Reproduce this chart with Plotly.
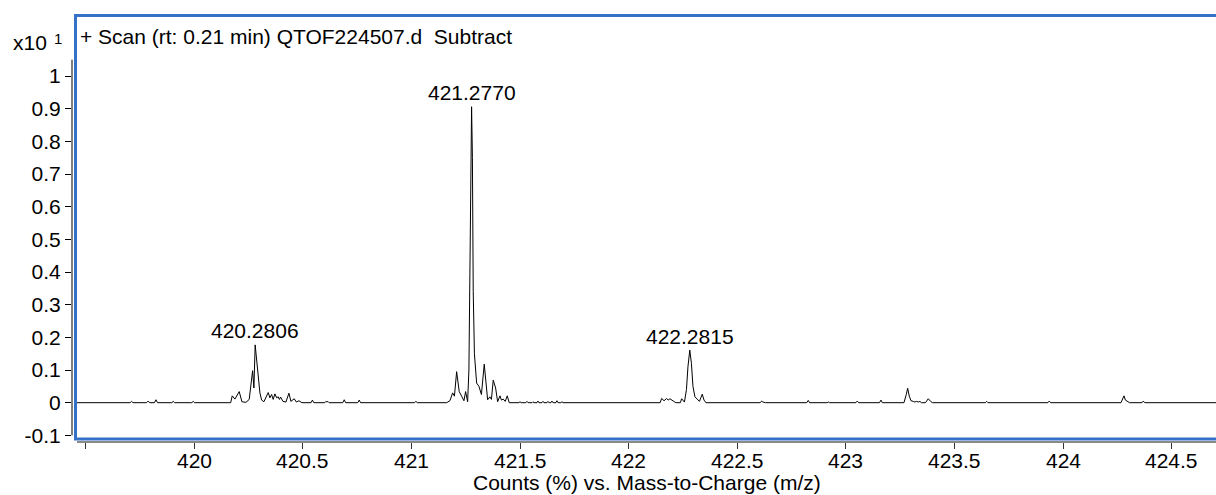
import plotly.graph_objects as go

# ---- spectrum (m/z vs. relative counts, in units of x10^1) ----
# baseline noise below the first isotope cluster
mz_low = [419.4553, 419.7050, 419.7118, 419.7180, 419.7810, 419.7882, 419.7950,
          419.8170, 419.8237, 419.8310, 419.8970, 419.9033, 419.9100, 419.9890,
          419.9954, 420.0020, 420.1560]
int_low = [0, 0, 0.004, 0, 0, 0.005, 0,
           0, 0.009, 0, 0, 0.004, 0, 0,
           0.004, 0, 0]

# cluster around 420.28
mz_420 = [420.1680, 420.1750, 420.1874, 420.2072, 420.2196, 420.2380, 420.2532,
          420.2689, 420.2749, 420.2806, 420.2880, 420.2947, 420.3025, 420.3103,
          420.3209, 420.3407, 420.3485, 420.3564, 420.3637, 420.3715, 420.3794,
          420.3867, 420.3923, 420.3978, 420.4084, 420.4222, 420.4360, 420.4452,
          420.4604, 420.4705, 420.4820, 420.4959, 420.5380, 420.5442, 420.5510,
          420.6010, 420.6063, 420.6110, 420.6155, 420.6210, 420.6840, 420.6906,
          420.6970, 420.7530, 420.7597, 420.7660, 421.0140, 421.0207, 421.0270]
int_420 = [0, 0.021, 0.011, 0.034, 0.003, 0.001, 0.010,
           0.098, 0.045, 0.177, 0.130, 0.080, 0.030, 0.008,
           0.003, 0.031, 0.015, 0.025, 0.010, 0.027, 0.015,
           0.018, 0.010, 0.017, 0.004, 0.002, 0.029, 0.004,
           0.012, 0.002, 0.006, 0, 0, 0.008, 0,
           0, 0.004, 0.002, 0.004, 0, 0, 0.009,
           0, 0, 0.008, 0, 0, 0.004, 0]

# base peak cluster around 421.28
mz_421 = [421.1621, 421.1772, 421.1897, 421.1980, 421.2081, 421.2201, 421.2311,
          421.2417, 421.2495, 421.2587, 421.2647, 421.2693, 421.2739, 421.2770,
          421.2808, 421.2845, 421.2900, 421.3002, 421.3108, 421.3222, 421.3352,
          421.3508, 421.3614, 421.3683, 421.3766, 421.3877, 421.3969, 421.4075,
          421.4144, 421.4226, 421.4318, 421.4411, 421.4503, 421.4950, 421.4996,
          421.5050, 421.5270, 421.5318, 421.5370, 421.5550, 421.5594, 421.5640,
          421.5780, 421.5824, 421.5870, 421.6010, 421.6054, 421.6100, 421.6240,
          421.6285, 421.6330, 421.6420, 421.6469, 421.6520, 421.6650, 421.6699,
          421.6750, 421.6880, 421.6929, 421.6980]
int_421 = [0, 0.006, 0.030, 0.020, 0.095, 0.034, 0.020,
           0.006, 0.034, 0.003, 0.100, 0.420, 0.780, 0.906,
           0.750, 0.340, 0.150, 0.060, 0.050, 0.025, 0.118,
           0.009, 0.018, 0.010, 0.069, 0.045, 0.003, 0.021,
           0.008, 0.011, 0.004, 0.021, 0, 0, 0.003,
           0, 0, 0.004, 0, 0, 0.003, 0,
           0, 0.005, 0, 0, 0.004, 0, 0,
           0.004, 0, 0, 0.005, 0, 0, 0.006,
           0, 0, 0.003, 0]

# cluster around 422.28
mz_422 = [422.1450, 422.1519, 422.1630, 422.1749, 422.1820, 422.1901, 422.2053,
          422.2177, 422.2380, 422.2440, 422.2569, 422.2661, 422.2730, 422.2815,
          422.2891, 422.2960, 422.3052, 422.3158, 422.3260, 422.3388, 422.3470,
          422.3559]
int_422 = [0, 0.013, 0.006, 0.013, 0.008, 0.012, 0.005,
           0, 0, 0.012, 0.002, 0.040, 0.110, 0.161,
           0.120, 0.050, 0.018, 0.010, 0.004, 0.026, 0.008,
           0]

# high-mass tail
mz_high = [422.6060, 422.6123, 422.6180, 422.6300, 422.8200, 422.8269, 422.8330,
           422.9140, 422.9189, 422.9240, 423.0460, 423.0525, 423.0590, 423.1550,
           423.1616, 423.1680, 423.2675, 423.2780, 423.2845, 423.2920, 423.2998,
           423.3103, 423.3180, 423.3260, 423.3340, 423.3411, 423.3480, 423.3664,
           423.3793, 423.3918, 423.3990, 423.6420, 423.6482, 423.6540, 423.7930,
           423.7983, 423.8040, 423.9300, 423.9364, 423.9430, 424.2666, 424.2740,
           424.2804, 424.2870, 424.2942, 424.3010, 424.3060, 424.3630, 424.3692,
           424.3760, 424.7040]
int_high = [0, 0.005, 0.002, 0, 0, 0.007, 0,
            0, 0.002, 0, 0, 0.005, 0, 0,
            0.008, 0, 0, 0.025, 0.044, 0.020, 0.006,
            0.004, 0.002, 0.004, 0.002, 0.004, 0, 0,
            0.012, 0.003, 0, 0, 0.004, 0, 0,
            0.002, 0, 0, 0.005, 0, 0, 0.012,
            0.021, 0.008, 0.004, 0.002, 0, 0, 0.005,
            0, 0]

mz = mz_low + mz_420 + mz_421 + mz_422 + mz_high
intensity = int_low + int_420 + int_421 + int_422 + int_high
assert len(mz) == len(intensity)

# labelled peaks
peak_mz = [420.2806, 421.2770, 422.2815]
peak_int = [0.177, 0.906, 0.161]
peak_labels = ["420.2806", "421.2770", "422.2815"]

# axis ticks
x_ticks = [419.5, 420, 420.5, 421, 421.5, 422, 422.5, 423, 423.5, 424, 424.5]
x_tick_labels = ["", "420", "420.5", "421", "421.5", "422", "422.5", "423",
                 "423.5", "424", "424.5"]
y_ticks = [-0.1, 0, 0.1, 0.2, 0.3, 0.4, 0.5, 0.6, 0.7, 0.8, 0.9, 1.0]
y_tick_labels = ["-0.1", "0", "0.1", "0.2", "0.3", "0.4", "0.5", "0.6", "0.7",
                 "0.8", "0.9", "1"]

title_text = "+ Scan (rt: 0.21 min) QTOF224507.d\u00a0 Subtract"
x_title = "Counts (%) vs. Mass-to-Charge (m/z)"

FONT = "Liberation Sans, Arial, sans-serif"
FS = 21
BLUE = "#3571c8"

W, H = 1216, 495
ML, MR, MT, MB = 72, 0, 15, 53
PW, PH = W - ML - MR, H - MT - MB


def px_x(p):
    return (p - ML) / PW


def px_y(p):
    return (H - MB - p) / PH


fig = go.Figure()
fig.add_trace(go.Scatter(x=mz, y=intensity, mode="lines",
                         line=dict(color="black", width=1),
                         hoverinfo="skip", showlegend=False))

fig.update_layout(
    width=W, height=H,
    margin=dict(l=ML, r=MR, t=MT, b=MB, pad=0),
    paper_bgcolor="white", plot_bgcolor="white",
    font=dict(family=FONT, size=FS, color="black"),
    showlegend=False,
)
fig.update_xaxes(range=[419.4374, 424.704], tickvals=x_ticks, showticklabels=False,
                 ticks="outside", ticklen=6, tickwidth=1, tickcolor="#333333",
                 showgrid=False, zeroline=False, showline=False)
fig.update_yaxes(range=[-0.1203, 1.1867], tickvals=y_ticks, ticktext=y_tick_labels,
                 ticks="outside", ticklen=6, tickwidth=1, tickcolor="black",
                 showgrid=False, zeroline=False, showline=False,
                 tickfont=dict(size=FS, family=FONT, color="black"))

# x tick labels, placed just under the tick marks
for v, t in zip(x_ticks, x_tick_labels):
    if t:
        fig.add_annotation(x=v, y=px_y(460), xref="x", yref="paper", text=t,
                           showarrow=False, xanchor="center", yanchor="middle",
                           font=dict(size=FS, family=FONT, color="black"))

# y axis spine (only over the tick span), x axis spine, and the blue frame
fig.add_shape(type="line", xref="paper", yref="y", x0=0, x1=0, y0=-0.1, y1=1.05,
              line=dict(color="black", width=1))
fig.add_shape(type="line", xref="paper", yref="paper", x0=px_x(77), x1=1.0,
              y0=0, y1=0, line=dict(color="#8a8a8a", width=2))
fig.add_shape(type="rect", xref="paper", yref="paper",
              x0=px_x(75.5), x1=1.01, y0=px_y(439), y1=px_y(15.5),
              line=dict(color=BLUE, width=3), fillcolor="rgba(0,0,0,0)")

# peak labels
for x, y, t in zip(peak_mz, peak_int, peak_labels):
    fig.add_annotation(x=x, y=y, xref="x", yref="y", text=t, showarrow=False,
                       xanchor="center", yanchor="middle", yshift=14,
                       font=dict(size=FS, family=FONT, color="black"))

# scan title inside the frame
fig.add_annotation(x=px_x(78), y=px_y(37), xref="paper", yref="paper",
                   text=title_text, showarrow=False, xanchor="left", yanchor="middle",
                   font=dict(size=FS, family=FONT, color="black"))
# y scale factor "x10^1"
fig.add_annotation(x=px_x(11), y=px_y(43), xref="paper", yref="paper",
                   text="x10", showarrow=False, xanchor="left", yanchor="middle",
                   font=dict(size=FS, family=FONT, color="black"))
fig.add_annotation(x=px_x(57.8), y=px_y(38.3), xref="paper", yref="paper",
                   text="1", showarrow=False, xanchor="center", yanchor="middle",
                   font=dict(size=15, family=FONT, color="black"))
# x axis title
fig.add_annotation(x=px_x(647), y=px_y(482), xref="paper", yref="paper",
                   text=x_title, showarrow=False, xanchor="center", yanchor="middle",
                   font=dict(size=FS, family=FONT, color="black"))

fig.write_html("out.html")
